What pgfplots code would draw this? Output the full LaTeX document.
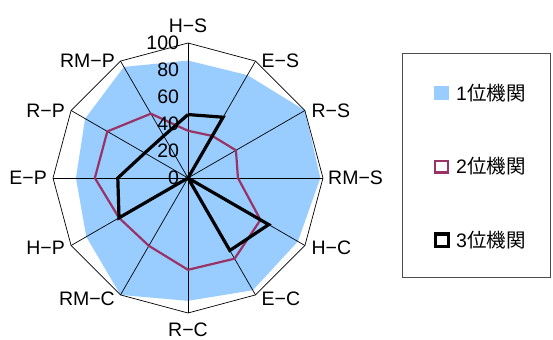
\documentclass[border=0pt]{standalone}
\usepackage{pgfplots}
\pgfplotsset{compat=1.18}
\usepackage{fontspec}
\setmainfont{Liberation Sans}
\newfontfamily\cjk{Noto Sans CJK JP}
\definecolor{fillblue}{HTML}{99CCFF}
\definecolor{plum}{HTML}{993366}
\begin{document}
\begin{tikzpicture}
\useasboundingbox (0bp,0bp) rectangle (553bp,340bp);
\draw[black!70, line width=1bp] (402bp,62bp) rectangle (550bp,286bp);
\begin{axis}[
  at={(188bp,162bp)}, anchor=center,
  width=270bp, height=270bp, scale only axis,
  xmin=-100, xmax=100, ymin=-100, ymax=100,
  hide axis, clip=false,
  font=\fontsize{19.5bp}{23bp}\selectfont,
  legend style={at={(1.411,0.85)}, anchor=north west, draw=none, fill=none,
    inner sep=0pt, row sep=56bp, column sep=6bp,
    nodes={inner sep=0pt},
    font=\fontsize{19.5bp}{23bp}\selectfont},
  legend cell align=left,
]
% series 1 (filled)
\addplot[fill=fillblue, draw=none, data cs=polar,
  legend image code/.code={\fill[fillblue] (0bp,-7bp) rectangle (15bp,7bp);}]
  coordinates {(90,87) (60,88) (30,100) (0,98) (-30,94) (-60,96) (-90,91) (-120,100) (-150,87) (-180,83) (-210,88) (-240,95) (90,87)};
\addlegendentry{1{\cjk 位機関}}
% grid: spokes and outer polygon
\pgfplotsinvokeforeach{90,60,30,0,-30,-60,-90,-120,-150,-180,-210,-240}{
  \addplot[forget plot, black, line width=0.7bp, data cs=polar] coordinates {(#1,0) (#1,100)};
}
\addplot[forget plot, black, line width=0.7bp, data cs=polar]
  coordinates {(90,100) (60,100) (30,100) (0,100) (-30,100) (-60,100) (-90,100) (-120,100) (-150,100) (-180,100) (-210,100) (-240,100) (90,100)};
% series 2
\addplot[plum, line width=2.2bp, data cs=polar,
  legend image code/.code={\draw[plum, line width=2.2bp, fill=white] (1.1bp,-5.9bp) rectangle (13.9bp,5.9bp);}]
  coordinates {(90,35) (60,36) (30,41) (0,37) (-30,62) (-60,69) (-90,68) (-120,58) (-150,59) (-180,69) (-210,69) (-240,55) (90,35)};
\addlegendentry{2{\cjk 位機関}}
% series 3
\addplot[black, line width=3.2bp, line join=miter, data cs=polar,
  legend image code/.code={\draw[black, line width=3.2bp, fill=white] (1.6bp,-6.4bp) rectangle (14.4bp,6.4bp);}]
  coordinates {(90,47) (60,52) (30,0) (0,0) (-30,69) (-60,62) (-90,0) (-120,0) (-150,59) (-180,52) (-210,37) (-240,36) (90,47)};
\addlegendentry{3{\cjk 位機関}}
% radial tick labels
\pgfplotsinvokeforeach{0,20,40,60,80,100}{
  \node[anchor=east, inner sep=0pt] at (axis cs:-6.5,#1) {#1};
}
% category labels
\node[anchor=base, inner sep=0pt, yshift=10bp] at (axis cs:0,100) {H−S};
\node[anchor=west, inner sep=0pt, xshift=6bp] at (axis cs:50,86.60) {E−S};
\node[anchor=west, inner sep=0pt, xshift=6.5bp] at (axis cs:86.60,50) {R−S};
\node[anchor=west, inner sep=0pt, xshift=5bp] at (axis cs:100,0) {RM−S};
\node[anchor=west, inner sep=0pt, xshift=6.5bp, yshift=-2bp] at (axis cs:86.60,-50) {H−C};
\node[anchor=west, inner sep=0pt, xshift=6bp, yshift=-4bp] at (axis cs:50,-86.60) {E−C};
\node[anchor=north, inner sep=0pt, yshift=-9.5bp] at (axis cs:0,-100) {R−C};
\node[anchor=east, inner sep=0pt, xshift=-5.5bp, yshift=-4bp] at (axis cs:-50,-86.60) {RM−C};
\node[anchor=east, inner sep=0pt, xshift=-6bp, yshift=-2bp] at (axis cs:-86.60,-50) {H−P};
\node[anchor=east, inner sep=0pt, xshift=-6bp] at (axis cs:-100,0) {E−P};
\node[anchor=east, inner sep=0pt, xshift=-6bp] at (axis cs:-86.60,50) {R−P};
\node[anchor=east, inner sep=0pt, xshift=-5.5bp] at (axis cs:-50,86.60) {RM−P};
\end{axis}
\end{tikzpicture}
\end{document}
